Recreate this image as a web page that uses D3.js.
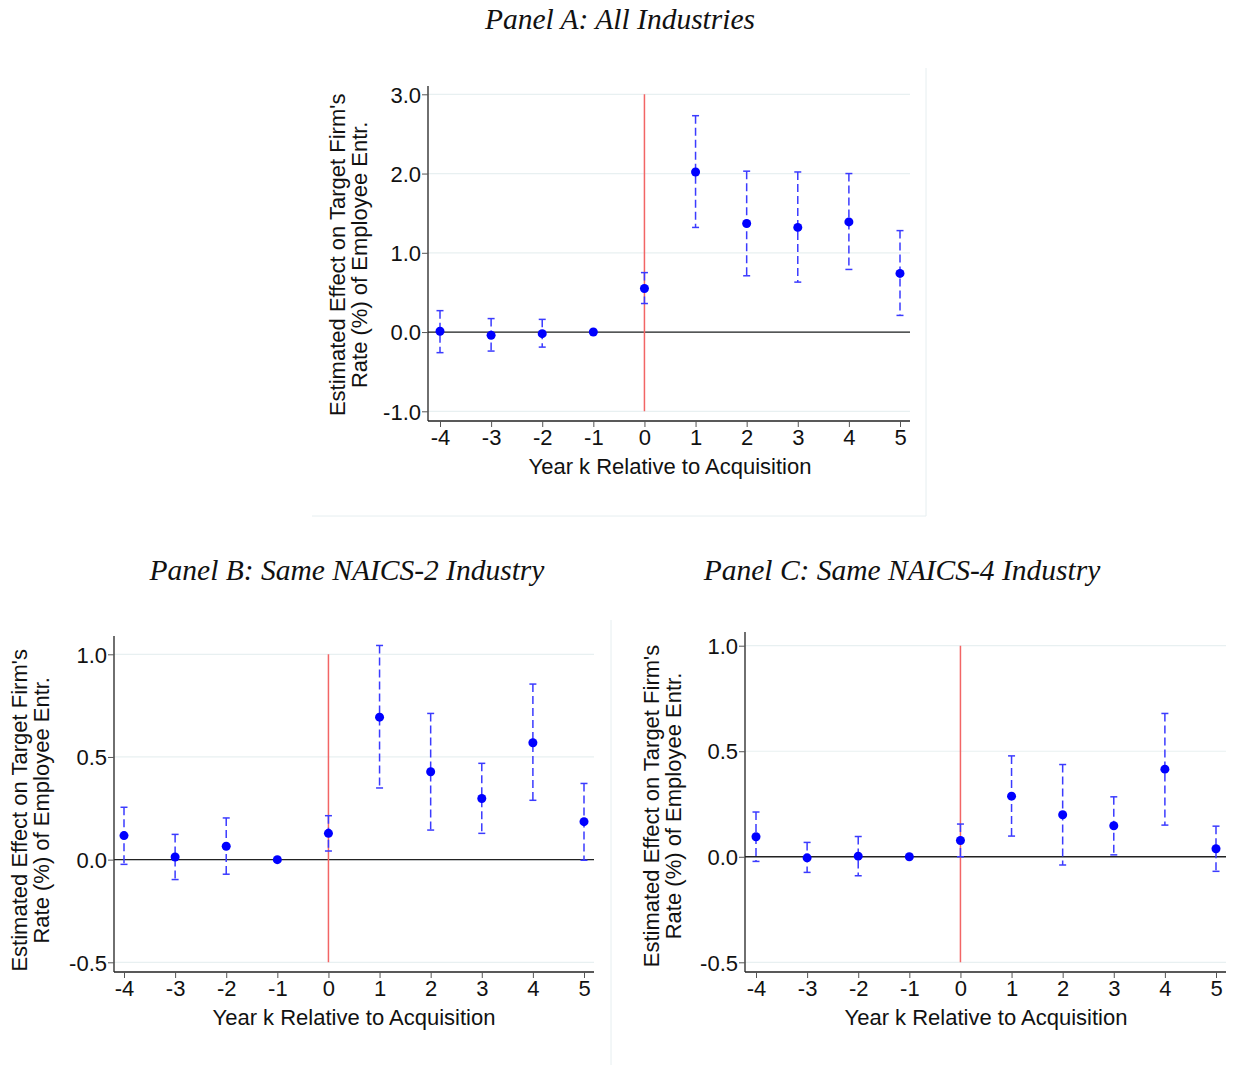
<!DOCTYPE html>
<html>
<head>
<meta charset="utf-8">
<script src="https://cdn.jsdelivr.net/npm/d3@7"></script>
<style>
  html, body { margin: 0; padding: 0; background: #fff; }
  svg { display: block; }
</style>
</head>
<body>
<script>
// ---- Data ----
const years = [-4, -3, -2, -1, 0, 1, 2, 3, 4, 5];
const xTickLabels = ["-4", "-3", "-2", "-1", "0", "1", "2", "3", "4", "5"];

const panelTitles = ["Panel A: All Industries", "Panel B: Same NAICS-2 Industry", "Panel C: Same NAICS-4 Industry"];
const yTitleLines = ["Estimated Effect on Target Firm's", "Rate (%) of Employee Entr."];
const xTitle = "Year k Relative to Acquisition";

// Panel A
const estA = [0.01, -0.04, -0.02, 0.0, 0.55, 2.02, 1.37, 1.32, 1.39, 0.74];
const loA  = [-0.26, -0.24, -0.19, null, 0.36, 1.32, 0.71, 0.63, 0.79, 0.21];
const hiA  = [0.27, 0.17, 0.16, null, 0.75, 2.73, 2.03, 2.02, 2.00, 1.28];
const yTicksA = [-1, 0, 1, 2, 3];
const yTickLabelsA = ["-1.0", "0.0", "1.0", "2.0", "3.0"];

// Panel B
const estB = [0.117, 0.013, 0.065, 0.0, 0.128, 0.694, 0.428, 0.298, 0.569, 0.185];
const loB  = [-0.023, -0.097, -0.071, null, 0.042, 0.349, 0.144, 0.128, 0.289, -0.003];
const hiB  = [0.255, 0.123, 0.203, null, 0.214, 1.043, 0.712, 0.469, 0.855, 0.371];
const yTicksB = [-0.5, 0, 0.5, 1.0];
const yTickLabelsB = ["-0.5", "0.0", "0.5", "1.0"];

// Panel C
const estC = [0.095, -0.005, 0.003, 0.0, 0.077, 0.287, 0.199, 0.147, 0.415, 0.038];
const loC  = [-0.022, -0.074, -0.090, null, 0.0, 0.098, -0.039, 0.009, 0.150, -0.069];
const hiC  = [0.212, 0.068, 0.096, null, 0.155, 0.478, 0.437, 0.284, 0.679, 0.145];
const yTicksC = [-0.5, 0, 0.5, 1.0];
const yTickLabelsC = ["-0.5", "0.0", "0.5", "1.0"];

// ---- Drawing ----
const W = 1239, H = 1065;
const svg = d3.select("body").append("svg").attr("width", W).attr("height", H);

const SANS = "'Liberation Sans', Arial, sans-serif";
const SERIF = "'Liberation Serif', 'Times New Roman', serif";
const FS = 22;

// Faint frame lines
const frameCol = "#e6eef0";
svg.append("line").attr("x1", 312).attr("x2", 926).attr("y1", 516).attr("y2", 516).attr("stroke", frameCol).attr("stroke-width", 1);
svg.append("line").attr("x1", 926).attr("x2", 926).attr("y1", 68).attr("y2", 516).attr("stroke", frameCol).attr("stroke-width", 1);
svg.append("line").attr("x1", 611).attr("x2", 611).attr("y1", 620).attr("y2", 1065).attr("stroke", frameCol).attr("stroke-width", 1);

// Titles
const titlePos = [[620, 29], [347, 580], [902, 580]];
panelTitles.forEach((t, i) => {
  svg.append("text").attr("x", titlePos[i][0]).attr("y", titlePos[i][1])
    .attr("text-anchor", "middle").attr("font-family", SERIF)
    .attr("font-style", "italic").attr("font-size", 29.5).attr("fill", "#111").text(t);
});

function drawPanel(cfg) {
  const g = svg.append("g");
  const x = d3.scaleLinear().domain([years[0], years[years.length - 1]]).range([cfg.x0, cfg.x1]);
  const y = d3.scaleLinear().domain([cfg.yTicks[0], cfg.yTicks[cfg.yTicks.length - 1]]).range([cfg.yBot, cfg.yTop]);

  // gridlines
  g.selectAll(".grid").data(cfg.yTicks).enter().append("line")
    .attr("x1", cfg.axisX).attr("x2", cfg.right)
    .attr("y1", d => y(d)).attr("y2", d => y(d))
    .attr("stroke", "#e8f0f1").attr("stroke-width", 1.2);

  // zero line
  g.append("line").attr("x1", cfg.axisX).attr("x2", cfg.right)
    .attr("y1", y(0)).attr("y2", y(0)).attr("stroke", "#222").attr("stroke-width", 1.3);

  // red vertical line at k = 0
  g.append("line").attr("x1", x(0)).attr("x2", x(0))
    .attr("y1", y(cfg.yTicks[cfg.yTicks.length - 1])).attr("y2", y(cfg.yTicks[0]))
    .attr("stroke", "#f26565").attr("stroke-width", 1.5);

  // Y axis
  const yAxis = d3.axisLeft(y).tickValues(cfg.yTicks)
    .tickFormat((d, i) => cfg.yTickLabels[i]).tickSize(6).tickPadding(1);
  const ya = g.append("g").attr("transform", `translate(${cfg.axisX},0)`).call(yAxis);
  ya.select(".domain").attr("d", `M0,${cfg.axisTop}V${cfg.axisY}`).attr("stroke", "#222").attr("stroke-width", 1.3);
  ya.selectAll(".tick line").attr("stroke", "#555");
  ya.selectAll(".tick text").attr("font-family", SANS).attr("font-size", FS).attr("fill", "#111").attr("dy", "0.35em");

  // X axis
  const xAxis = d3.axisBottom(x).tickValues(years)
    .tickFormat((d, i) => xTickLabels[i]).tickSize(6).tickPadding(2);
  const xa = g.append("g").attr("transform", `translate(0,${cfg.axisY})`).call(xAxis);
  xa.select(".domain").attr("d", `M${cfg.axisX},0H${cfg.right}`).attr("stroke", "#222").attr("stroke-width", 1.3);
  xa.selectAll(".tick line").attr("stroke", "#555");
  xa.selectAll(".tick text").attr("font-family", SANS).attr("font-size", FS).attr("fill", "#111");

  // X title
  g.append("text").attr("x", (cfg.x0 + cfg.x1) / 2).attr("y", cfg.axisY + 53)
    .attr("text-anchor", "middle").attr("font-family", SANS).attr("font-size", FS)
    .attr("fill", "#111").text(xTitle);

  // Y title (two lines)
  const yc = (cfg.yTop + cfg.yBot) / 2 + 2;
  yTitleLines.forEach((t, i) => {
    g.append("text")
      .attr("transform", `translate(${cfg.yTitleX + i * 22},${yc}) rotate(-90)`)
      .attr("text-anchor", "middle").attr("font-family", SANS).attr("font-size", FS)
      .attr("fill", "#111").text(t);
  });

  // Error bars
  const rows = years.map((k, i) => ({ k, est: cfg.est[i], lo: cfg.lo[i], hi: cfg.hi[i] }))
    .filter(d => d.lo !== null);
  g.selectAll(".ci").data(rows).enter().append("line")
    .attr("x1", d => x(d.k)).attr("x2", d => x(d.k))
    .attr("y1", d => y(d.hi)).attr("y2", d => y(d.lo))
    .attr("stroke", "#3b3bff").attr("stroke-width", 1.5).attr("stroke-dasharray", "8,4");
  ["hi", "lo"].forEach(key => {
    g.selectAll(".cap" + key).data(rows).enter().append("line")
      .attr("x1", d => x(d.k) - 3.5).attr("x2", d => x(d.k) + 3.5)
      .attr("y1", d => y(d[key])).attr("y2", d => y(d[key]))
      .attr("stroke", "#3b3bff").attr("stroke-width", 1.5);
  });

  // Points
  g.selectAll(".pt").data(years.map((k, i) => ({ k, v: cfg.est[i] }))).enter().append("circle")
    .attr("cx", d => x(d.k)).attr("cy", d => y(d.v)).attr("r", 4.5)
    .attr("fill", "#0000ff");
}

drawPanel({
  est: estA, lo: loA, hi: hiA, yTicks: yTicksA, yTickLabels: yTickLabelsA,
  x0: 440, x1: 900, axisX: 428, right: 910, yTop: 94.3, yBot: 411.3,
  axisTop: 86, axisY: 421, yTitleX: 345
});
drawPanel({
  est: estB, lo: loB, hi: hiB, yTicks: yTicksB, yTickLabels: yTickLabelsB,
  x0: 124, x1: 584, axisX: 114, right: 594, yTop: 654.3, yBot: 962.3,
  axisTop: 636, axisY: 972, yTitleX: 27
});
drawPanel({
  est: estC, lo: loC, hi: hiC, yTicks: yTicksC, yTickLabels: yTickLabelsC,
  x0: 756, x1: 1216, axisX: 745, right: 1226, yTop: 645.7, yBot: 962.3,
  axisTop: 632, axisY: 972, yTitleX: 659
});
</script>
</body>
</html>
